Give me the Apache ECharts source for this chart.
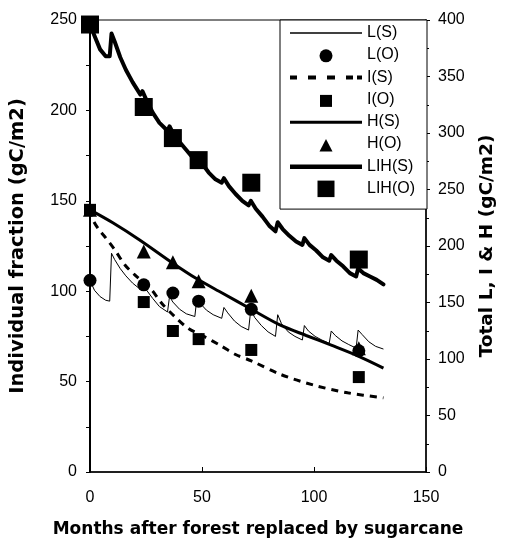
<!DOCTYPE html>
<html>
<head>
<meta charset="utf-8">
<script src="https://cdn.jsdelivr.net/npm/echarts@6/dist/echarts.min.js"></script>
<style>
html,body{margin:0;padding:0;background:#fff;}
#chart{width:505px;height:546px;}
</style>
</head>
<body>
<div id="chart"></div>
<script>
// ---- data ----
const xTicks = [0, 50, 100, 150];
const leftTicks = [0, 50, 100, 150, 200, 250];
const rightTicks = [0, 50, 100, 150, 200, 250, 300, 350, 400];

// simulated litter L(S) (left axis)
const lsMonths = [0, 2, 4.5, 7, 8.8, 9.6, 11, 13.5, 16, 19, 22.5, 23.4, 25, 28, 31, 34.6, 35.5, 37, 40, 43, 46.8, 47.7, 49, 52, 55, 58.8, 59.8, 61.5, 64.5, 67.5, 70.8, 71.8, 73.5, 76.5, 79.5, 82.8, 83.8, 85.5, 88.5, 91.5, 94.8, 95.7, 97.5, 100.5, 103.5, 106.8, 107.7, 109.5, 112.5, 115.5, 118.8, 119.7, 121.5, 124.5, 127.5, 131];
const lsValues = [106, 100.5, 97, 95, 94.5, 121, 117.5, 112.5, 108.5, 104.5, 101, 104.5, 101, 96, 91.5, 88.5, 97, 94, 90, 87.5, 86, 96, 93.5, 89.5, 87, 85, 91, 88, 83.5, 80.5, 78.5, 90, 85.5, 81, 77.5, 75, 87, 82, 77.5, 75, 73, 81, 78, 75, 73, 71.2, 78, 75.5, 72.5, 70.5, 68.5, 78.5, 76, 72, 69.5, 68];

// simulated intermediate I(S) (left axis)
const isMonths = [0, 1.5, 4, 6.7, 11, 15.6, 20, 27.5, 32, 37.8, 43.8, 51.2, 57.9, 65, 72, 85, 100, 115, 131];
const isValues = [145, 139, 134, 130, 123, 114.5, 109, 100.7, 93.3, 86, 79.5, 74.8, 70.2, 65, 61.5, 54, 48, 43.8, 41];

// simulated humus H(S) (left axis)
const hsMonths = [0, 10, 22, 37, 47.5, 59, 72, 84.5, 96.5, 108, 120, 131];
const hsValues = [145, 138, 128.5, 115.5, 107, 99, 90, 81.5, 75.5, 70, 64, 57.5];

// simulated total LIH(S) (right axis)
const lihsMonths = [0, 2, 4.5, 7, 8.8, 9.6, 11, 13.5, 16, 19, 22.5, 23.4, 25, 28, 31, 34.6, 35.5, 37, 40, 43, 46.8, 47.7, 50, 53, 56, 58.8, 59.8, 62, 65, 68, 70.8, 71.8, 74, 77, 80, 82.8, 83.8, 86, 89, 92, 94.8, 95.7, 98, 101, 104, 106.8, 107.7, 110, 113, 116, 118.8, 119.7, 122, 125, 128, 131];
const lihsValues = [396, 386, 374, 368, 368, 388, 381, 367, 356, 345, 334, 337, 330, 318, 309, 302, 306, 300, 292, 285, 276, 280, 273, 265, 259, 256, 260, 253, 246, 240, 236, 240, 233, 226, 218, 213, 221, 215, 209, 204, 201, 207, 201, 196, 190, 187, 192, 187, 182, 176, 173, 180, 176, 173, 170, 166];

// observations
const obsMonths = [0, 24, 37, 48.5, 72, 120];
const loValues = [106, 103.5, 99, 94.5, 90, 67];
const ioValues = [145, 94, 78, 73.5, 67.5, 52.5];
const hoValues = [145, 122, 116, 105.5, 97.5, 68.5];
const lihoValues = [396, 323, 295.5, 276, 256, 188];

const legendNames = ['L(S)', 'L(O)', 'I(S)', 'I(O)', 'H(S)', 'H(O)', 'LIH(S)', 'LIH(O)'];

// ---- build ----
const zip = (xs, ys) => xs.map((x, i) => [x, ys[i]]);
const BLACK = '#000';
const FONT = 'Liberation Sans, Arial, sans-serif';
const TITLE_FONT = 'DejaVu Sans, sans-serif';

// legend icons (drawn inside a 72x17 item box)
const FRAME = 'M0,0M72,17';
const ICON_LS = 'path://' + FRAME + 'M0,8.3H72V9.7H0Z';
const ICON_IS = 'path://' + FRAME + 'M0,7H7V11H0Z M18,7H26V11H18Z M37,7H45V11H37Z M56,7H63V11H56Z M67,7H72V11H67Z';
const ICON_HS = 'path://' + FRAME + 'M0,7.5H72V10.5H0Z';
const ICON_LIHS = 'path://' + FRAME + 'M0,6.8H72V11.2H0Z';
const ICON_LO = 'path://' + FRAME + 'M29.5,9.5A6.5,6.5 0 1 1 42.5,9.5A6.5,6.5 0 1 1 29.5,9.5Z';
const ICON_IO = 'path://' + FRAME + 'M30,4H42V16H30Z';
const ICON_HO = 'path://' + FRAME + 'M36,3.5L42.5,16L29.5,16Z';
const ICON_LIHO = 'path://' + FRAME + 'M27.5,0.5H44.5V17H27.5Z';

const chart = echarts.init(document.getElementById('chart'), null, {renderer: 'canvas'});

const axisCommon = {
  axisLine: {show: true, lineStyle: {color: BLACK, width: 1.5}},
  splitLine: {show: false},
  axisLabel: {color: BLACK, fontSize: 16, fontFamily: FONT},
  nameTextStyle: {color: BLACK, fontSize: 17, fontWeight: 'bold', fontFamily: TITLE_FONT}
};

const option = {
  animation: false,
  backgroundColor: '#fff',
  grid: {left: 90, right: 78, top: 20, bottom: 74, show: true, borderColor: BLACK, borderWidth: 1, backgroundColor: 'transparent'},
  legend: {
    orient: 'vertical',
    left: 280,
    top: 20,
    width: 148,
    padding: [4, 12, 12, 10],
    borderColor: BLACK,
    borderWidth: 1,
    backgroundColor: '#fff',
    itemWidth: 72,
    itemHeight: 17,
    itemGap: 5.3,
    selectedMode: false,
    symbolKeepAspect: true,
    textStyle: {color: BLACK, fontSize: 16, fontFamily: FONT},
    data: [
      {name: legendNames[0], icon: ICON_LS},
      {name: legendNames[1], icon: ICON_LO},
      {name: legendNames[2], icon: ICON_IS},
      {name: legendNames[3], icon: ICON_IO},
      {name: legendNames[4], icon: ICON_HS},
      {name: legendNames[5], icon: ICON_HO},
      {name: legendNames[6], icon: ICON_LIHS},
      {name: legendNames[7], icon: ICON_LIHO}
    ]
  },
  xAxis: Object.assign({}, axisCommon, {
    type: 'value', min: xTicks[0], max: xTicks[xTicks.length - 1], interval: xTicks[1] - xTicks[0],
    axisTick: {show: true, inside: true, length: 5, lineStyle: {color: BLACK, width: 1}},
    axisLabel: Object.assign({}, axisCommon.axisLabel, {margin: 18}),
    name: 'Months after forest replaced by sugarcane',
    nameLocation: 'middle', nameGap: 49
  }),
  yAxis: [
    Object.assign({}, axisCommon, {
      type: 'value', position: 'left', min: leftTicks[0], max: leftTicks[leftTicks.length - 1], interval: leftTicks[1] - leftTicks[0],
      axisLine: {show: true, lineStyle: {color: BLACK, width: 2}},
      axisTick: {show: true, inside: false, length: 4, lineStyle: {color: BLACK, width: 1}},
      minorTick: {show: true, splitNumber: 2, length: 4, lineStyle: {color: BLACK, width: 1}},
      minorSplitLine: {show: false},
      axisLabel: Object.assign({}, axisCommon.axisLabel, {margin: 13}),
      name: 'Individual fraction (gC/m2)', nameLocation: 'middle', nameGap: 62,
      nameTextStyle: {color: BLACK, fontSize: 19.5, fontWeight: 'bold', fontFamily: TITLE_FONT}
    }),
    Object.assign({}, axisCommon, {
      type: 'value', position: 'right', min: rightTicks[0], max: rightTicks[rightTicks.length - 1], interval: rightTicks[1] - rightTicks[0],
      axisLine: {show: true, lineStyle: {color: BLACK, width: 1.5}},
      axisTick: {show: true, inside: false, length: 4, lineStyle: {color: BLACK, width: 1}},
      minorTick: {show: true, splitNumber: 2, length: 3, lineStyle: {color: BLACK, width: 1}},
      minorSplitLine: {show: false},
      axisLabel: Object.assign({}, axisCommon.axisLabel, {margin: 12}),
      name: 'Total L, I & H (gC/m2)', nameLocation: 'middle', nameGap: 52,
      nameTextStyle: {color: BLACK, fontSize: 18.5, fontWeight: 'bold', fontFamily: TITLE_FONT}
    })
  ],
  series: [
    {name: 'L(S)', type: 'line', yAxisIndex: 0, data: zip(lsMonths, lsValues), symbol: 'none', clip: false,
     lineStyle: {color: BLACK, width: 1}, itemStyle: {color: BLACK}, z: 2},
    {name: 'I(S)', type: 'line', yAxisIndex: 0, data: zip(isMonths, isValues), symbol: 'none', clip: false, smooth: 0.3,
     lineStyle: {color: BLACK, width: 3, type: [7, 6]}, itemStyle: {color: BLACK}, z: 2},
    {name: 'H(S)', type: 'line', yAxisIndex: 0, data: zip(hsMonths, hsValues), symbol: 'none', clip: false, smooth: 0.3,
     lineStyle: {color: BLACK, width: 3}, itemStyle: {color: BLACK}, z: 2},
    {name: 'LIH(S)', type: 'line', yAxisIndex: 1, data: zip(lihsMonths, lihsValues), symbol: 'none', clip: false,
     lineStyle: {color: BLACK, width: 4, join: 'round', cap: 'round'}, itemStyle: {color: BLACK}, z: 2},
    {name: 'L(O)', type: 'scatter', yAxisIndex: 0, data: zip(obsMonths, loValues), symbol: 'circle', symbolSize: 13,
     itemStyle: {color: BLACK, opacity: 1}, z: 3},
    {name: 'I(O)', type: 'scatter', yAxisIndex: 0, data: zip(obsMonths, ioValues), symbol: 'rect', symbolSize: 12,
     itemStyle: {color: BLACK, opacity: 1}, z: 3},
    {name: 'H(O)', type: 'scatter', yAxisIndex: 0, data: zip(obsMonths, hoValues), symbol: 'triangle', symbolSize: 14,
     itemStyle: {color: BLACK, opacity: 1}, z: 3},
    {name: 'LIH(O)', type: 'scatter', yAxisIndex: 1, data: zip(obsMonths, lihoValues), symbol: 'rect', symbolSize: 18,
     itemStyle: {color: BLACK, opacity: 1}, z: 3}
  ]
};

chart.setOption(option);
</script>
</body>
</html>
